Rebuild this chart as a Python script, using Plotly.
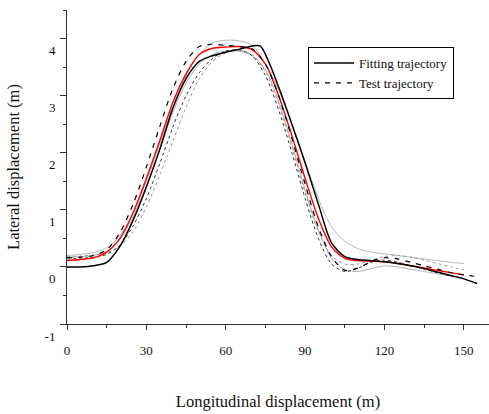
import plotly.graph_objects as go

# ---- data ----
x_grid = [0, 5, 10, 15, 20, 25, 30, 35, 40, 45, 50, 55, 60, 65, 70, 75, 80, 85,
          90, 95, 100, 105, 110, 115, 120, 125, 130, 135, 140, 145, 150, 155]

fit_x = [0, 5, 10, 15, 20, 25, 30, 35, 40, 45, 50, 55, 60, 65, 70, 73, 76, 80, 85,
         90, 95, 100, 105, 110, 115, 120, 125, 130, 135, 140, 145, 150, 155]
fit_y = [0.0, 0.0, 0.02, 0.08, 0.36, 0.82, 1.4, 2.05, 2.78, 3.3, 3.6, 3.7, 3.76, 3.81,
         3.87, 3.87, 3.62, 3.15, 2.5, 1.82, 1.1, 0.42, 0.18, 0.13, 0.11, 0.09, 0.06,
         0.02, -0.03, -0.09, -0.15, -0.21, -0.29]

red_y = [0.11, 0.13, 0.16, 0.26, 0.5, 0.95, 1.55, 2.2, 2.88, 3.38, 3.72, 3.83, 3.85,
         3.86, 3.8, 3.55, 3.0, 2.3, 1.55, 0.85, 0.35, 0.15, 0.11, 0.1, 0.09, 0.06,
         0.02, -0.02, -0.06, -0.1, -0.14]

dashed_y = [0.16, 0.17, 0.2, 0.3, 0.6, 1.1, 1.75, 2.45, 3.12, 3.6, 3.86, 3.9, 3.88,
            3.86, 3.82, 3.55, 3.0, 2.25, 1.45, 0.7, 0.18, -0.06, -0.02, 0.1, 0.16,
            0.14, 0.08, 0.02, -0.04, -0.1, -0.14, -0.17]

dotted_y = [0.14, 0.15, 0.17, 0.22, 0.38, 0.72, 1.2, 1.8, 2.45, 3.0, 3.4, 3.65, 3.78,
            3.8, 3.7, 3.35, 2.75, 2.0, 1.2, 0.5, 0.05, -0.08, -0.02, 0.08, 0.12, 0.08,
            0.02, -0.04, -0.1, -0.16, -0.2]

gray1_y = [0.2, 0.22, 0.25, 0.33, 0.55, 0.95, 1.5, 2.15, 2.8, 3.35, 3.72, 3.92, 3.97,
           3.96, 3.88, 3.55, 3.1, 2.5, 1.85, 1.2, 0.7, 0.45, 0.32, 0.26, 0.23, 0.2,
           0.17, 0.14, 0.11, 0.08, 0.06]

gray2_y = [0.17, 0.18, 0.2, 0.27, 0.48, 0.88, 1.42, 2.05, 2.7, 3.22, 3.55, 3.72, 3.78,
           3.78, 3.7, 3.45, 2.9, 2.15, 1.35, 0.65, 0.15, -0.05, -0.08, -0.03, 0.02,
           0.0, -0.04, -0.08, -0.12, -0.16, -0.2]

gray_dot_y = [0.18, 0.19, 0.21, 0.25, 0.36, 0.62, 1.05, 1.6, 2.2, 2.8, 3.3, 3.6, 3.75,
              3.8, 3.72, 3.42, 2.85, 2.1, 1.3, 0.62, 0.2, 0.05, 0.05, 0.12, 0.18, 0.2,
              0.17, 0.12, 0.06, 0.0, -0.05]

x_ticks = [0, 30, 60, 90, 120, 150]
y_ticks = [-1, 0, 1, 2, 3, 4]

FONT = "'Liberation Serif', 'Times New Roman', Times, serif"

fig = go.Figure()

def add(x, y, color, width, dash="solid", name=None, show=False):
    fig.add_trace(go.Scatter(
        x=x, y=y, mode="lines", name=name, showlegend=show,
        line=dict(color=color, width=width, dash=dash, shape="spline", smoothing=0.8),
    ))

add(x_grid[:len(gray1_y)], gray1_y, "#b8b8b8", 1)
add(x_grid[:len(gray2_y)], gray2_y, "#b0b0b0", 1)
add(x_grid[:len(gray_dot_y)], gray_dot_y, "#9a9a9a", 1, "dot")
add(x_grid[:len(dotted_y)], dotted_y, "#333333", 1, "dot")
add(x_grid[:len(red_y)], red_y, "#ff0000", 1.4)
add(fit_x, fit_y, "#000000", 1.5, "solid", "Fitting trajectory", True)
add(x_grid[:len(dashed_y)], dashed_y, "#000000", 1.2, "5px,6px", "Test trajectory", True)

fig.update_layout(
    width=489, height=414,
    margin=dict(l=67, r=0, t=10, b=90),
    paper_bgcolor="white", plot_bgcolor="white",
    font=dict(family=FONT, size=12, color="#111111"),
    showlegend=True,
    legend=dict(
        x=0.571, y=0.882, xanchor="left", yanchor="top",
        bordercolor="#000000", borderwidth=1, bgcolor="white",
        font=dict(family=FONT, size=13, color="#111111"),
        tracegroupgap=0, itemwidth=40,
    ),
    xaxis=dict(
        range=[0, 159.5], showgrid=False, zeroline=False,
        showline=True, linecolor="#333333", linewidth=1,
        ticks="outside", ticklen=5, tickcolor="#333333",
        tickvals=x_ticks, ticktext=[str(v) for v in x_ticks],
        tickfont=dict(family=FONT, size=13),
        minor=dict(ticks="outside", ticklen=3, dtick=15, tick0=0, tickcolor="#333333"),
        ticklabelstandoff=9,
        title=dict(text="Longitudinal displacement (m)", standoff=38,
                   font=dict(family=FONT, size=16.5)),
    ),
    yaxis=dict(
        range=[-1, 4.5], showgrid=False, zeroline=False,
        showline=True, linecolor="#333333", linewidth=1,
        ticks="outside", ticklen=6, tickcolor="#333333",
        tickvals=y_ticks, ticktext=[str(v) for v in y_ticks],
        tickfont=dict(family=FONT, size=13),
        minor=dict(ticks="outside", ticklen=3, dtick=0.5, tick0=0, tickcolor="#333333"),
        ticklabelshift=12,
        ticklabelstandoff=2,
        title=dict(text="Lateral displacement (m)", standoff=20,
                   font=dict(family=FONT, size=16.5)),
    ),
)

fig.write_html("out.html")
